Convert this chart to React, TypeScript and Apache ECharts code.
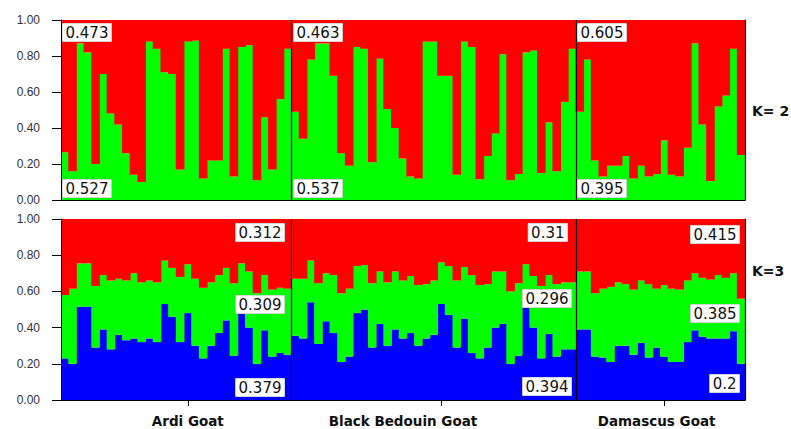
import React, { useEffect, useRef } from "react";
import * as echarts from "echarts";

// Group names
const groupNames = ["Ardi Goat", "Black Bedouin Goat", "Damascus Goat"];

// K=2 : green share per individual (red is the remainder)
const ardiK2Green = [0.265, 0.16, 0.87, 0.82, 0.2, 0.7, 0.48, 0.42, 0.26, 0.14, 0.1, 0.88, 0.84, 0.71, 0.7, 0.17, 0.88, 0.885, 0.12, 0.22, 0.22, 0.84, 0.13, 0.85, 0.86, 0.11, 0.46, 0.17, 0.56, 0.84];
const bedouinK2Green = [0.49, 0.34, 0.78, 0.87, 0.87, 0.69, 0.26, 0.19, 0.85, 0.84, 0.21, 0.785, 0.505, 0.4, 0.23, 0.13, 0.12, 0.88, 0.88, 0.69, 0.69, 0.14, 0.88, 0.85, 0.115, 0.245, 0.37, 0.81, 0.11, 0.145, 0.82, 0.83, 0.15, 0.43, 0.16, 0.545, 0.84];
const damascusK2Green = [0.49, 0.78, 0.22, 0.13, 0.19, 0.19, 0.245, 0.12, 0.19, 0.13, 0.145, 0.33, 0.14, 0.13, 0.29, 0.87, 0.42, 0.105, 0.52, 0.58, 0.84, 0.25];

// K=3 : blue share, and cumulative top of green (blue + green); red is the remainder
const ardiK3Blue = [0.23, 0.2, 0.515, 0.515, 0.29, 0.39, 0.28, 0.36, 0.33, 0.34, 0.32, 0.34, 0.32, 0.53, 0.46, 0.32, 0.48, 0.3, 0.23, 0.3, 0.37, 0.44, 0.245, 0.49, 0.4, 0.2, 0.385, 0.24, 0.26, 0.25];
const ardiK3GreenTop = [0.58, 0.615, 0.755, 0.755, 0.63, 0.69, 0.66, 0.67, 0.66, 0.7, 0.65, 0.66, 0.65, 0.77, 0.73, 0.68, 0.75, 0.67, 0.62, 0.65, 0.69, 0.73, 0.645, 0.755, 0.71, 0.59, 0.69, 0.61, 0.62, 0.615];
const bedouinK3Blue = [0.355, 0.34, 0.54, 0.31, 0.435, 0.37, 0.21, 0.24, 0.48, 0.5, 0.29, 0.42, 0.3, 0.39, 0.34, 0.37, 0.3, 0.34, 0.36, 0.53, 0.47, 0.29, 0.45, 0.26, 0.23, 0.29, 0.4, 0.42, 0.2, 0.245, 0.51, 0.4, 0.23, 0.365, 0.24, 0.28, 0.28];
const bedouinK3GreenTop = [0.67, 0.67, 0.77, 0.645, 0.7, 0.69, 0.59, 0.615, 0.74, 0.745, 0.645, 0.71, 0.65, 0.71, 0.66, 0.685, 0.635, 0.64, 0.66, 0.76, 0.74, 0.66, 0.735, 0.69, 0.635, 0.64, 0.71, 0.71, 0.6, 0.645, 0.75, 0.685, 0.63, 0.69, 0.64, 0.65, 0.65];
const damascusK3Blue = [0.39, 0.39, 0.24, 0.235, 0.21, 0.3, 0.3, 0.25, 0.315, 0.235, 0.29, 0.24, 0.21, 0.21, 0.32, 0.385, 0.35, 0.34, 0.34, 0.34, 0.38, 0.2];
const damascusK3GreenTop = [0.71, 0.71, 0.59, 0.615, 0.625, 0.65, 0.64, 0.61, 0.66, 0.64, 0.615, 0.635, 0.615, 0.61, 0.66, 0.7, 0.675, 0.665, 0.69, 0.675, 0.7, 0.56];

// Mean membership annotations
const k2RedMeans = ["0.473", "0.463", "0.605"];
const k2GreenMeans = ["0.527", "0.537", "0.395"];
const k3RedMeans = ["0.312", "0.31", "0.415"];
const k3GreenMeans = ["0.309", "0.296", "0.385"];
const k3BlueMeans = ["0.379", "0.394", "0.2"];

const round3 = (v: number) => Math.round(v * 1000) / 1000;

export default function App() {
  const ref = useRef<HTMLDivElement>(null);

  useEffect(() => {
    if (!ref.current) return;
    const chart = echarts.init(ref.current, undefined, { renderer: "svg" });

    const samples = [
      ...ardiK2Green.map((_, i) => `AR${i + 1}`),
      ...bedouinK2Green.map((_, i) => `BB${i + 1}`),
      ...damascusK2Green.map((_, i) => `DM${i + 1}`),
    ];
    const b1 = ardiK2Green.length;
    const b2 = b1 + bedouinK2Green.length;

    const k2Green = [...ardiK2Green, ...bedouinK2Green, ...damascusK2Green];
    const k2Red = k2Green.map((v) => round3(1 - v));
    const k3Blue = [...ardiK3Blue, ...bedouinK3Blue, ...damascusK3Blue];
    const k3Top = [...ardiK3GreenTop, ...bedouinK3GreenTop, ...damascusK3GreenTop];
    const k3Green = k3Top.map((t, i) => round3(t - k3Blue[i]));
    const k3Red = k3Top.map((t) => round3(1 - t));

    const tickIdx = [16, 49, 78];
    const labelIdx = [16, 44, 77];

    const boundaryLine = {
      show: true,
      interval: (i: number) => i === b1 || i === b2,
      lineStyle: { color: "#000", width: 1.2 },
    };

    const frameX = (grid: number, position: string) => ({
      type: "category",
      gridIndex: grid,
      data: samples,
      position,
      z: 5,
      axisLine: { show: true, lineStyle: { color: "#000", width: 1 } },
      axisTick: { show: false },
      axisLabel: { show: false },
      splitLine: { show: false },
    });

    const valueY = (grid: number) => ({
      type: "value",
      gridIndex: grid,
      min: 0,
      max: 1,
      interval: 0.2,
      z: 5,
      axisLine: { show: true, lineStyle: { color: "#000" } },
      axisTick: { show: true, length: 9, lineStyle: { color: "#000" } },
      axisLabel: {
        margin: 21,
        color: "#333",
        fontSize: 12,
        fontFamily: "Liberation Sans",
        formatter: (v: number) => v.toFixed(2),
      },
      splitLine: { show: false },
    });

    const rightY = (grid: number) => ({
      type: "value",
      gridIndex: grid,
      position: "right",
      min: 0,
      max: 1,
      z: 5,
      axisLine: { show: true, lineStyle: { color: "#000" } },
      axisTick: { show: false },
      axisLabel: { show: false },
      splitLine: { show: false },
    });

    const bar = (name: string, data: number[], color: string, x: number, y: number, stack: string) => ({
      type: "bar",
      name,
      data,
      stack,
      xAxisIndex: x,
      yAxisIndex: y,
      barWidth: "112%",
      itemStyle: { color },
      emphasis: { disabled: true },
    });

    const annot = (text: string, pos: any) => ({
      type: "text",
      ...pos,
      z: 100,
      style: {
        text,
        fontSize: 15,
        fontFamily: "DejaVu Sans",
        fill: "#111",
        backgroundColor: "#fff",
        borderColor: "#aaa",
        borderWidth: 0.5,
        padding: [2, 3, 1, 3],
      },
    });

    const topLefts = [62, 293, 577];
    const k3Rights = [506, 219, 51];

    const graphics: any[] = [];
    topLefts.forEach((l, g) => {
      graphics.push(annot(k2RedMeans[g], { left: l, top: 23 }));
      graphics.push(annot(k2GreenMeans[g], { left: l, top: 179 }));
    });
    const k3RedTops = [223, 223, 225];
    const k3GreenTops = [295, 289, 304];
    const k3BlueTops = [378, 377, 374];
    k3Rights.forEach((r, g) => {
      graphics.push(annot(k3RedMeans[g], { right: r + (g === 1 ? 4 : 0), top: k3RedTops[g] }));
      graphics.push(annot(k3GreenMeans[g], { right: r, top: k3GreenTops[g] }));
      graphics.push(annot(k3BlueMeans[g], { right: r, top: k3BlueTops[g] }));
    });
    graphics.push({
      type: "text",
      left: 752,
      top: 104,
      style: { text: "K= 2", fontSize: 14, fontWeight: "bold", fontFamily: "DejaVu Sans", fill: "#111" },
    });
    graphics.push({
      type: "text",
      left: 752,
      top: 264,
      style: { text: "K=3", fontSize: 14, fontWeight: "bold", fontFamily: "DejaVu Sans", fill: "#111" },
    });

    chart.setOption({
      animation: false,
      grid: [
        { left: 61, right: 46, top: 20, height: 180 },
        { left: 61, right: 46, top: 219, height: 181 },
      ],
      xAxis: [
        { ...frameX(0, "bottom"), splitLine: boundaryLine },
        frameX(0, "top"),
        {
          ...frameX(1, "bottom"),
          splitLine: boundaryLine,
          axisTick: {
            show: true,
            alignWithLabel: true,
            length: 6,
            interval: (i: number) => tickIdx.includes(i),
            lineStyle: { color: "#000" },
          },
          axisLabel: {
            show: true,
            margin: 14,
            interval: (i: number) => labelIdx.includes(i),
            formatter: (_v: string, i: number) => {
              const k = labelIdx.indexOf(i);
              return k >= 0 ? groupNames[k] : "";
            },
            color: "#111",
            fontSize: 13.5,
            fontWeight: "bold",
            fontFamily: "DejaVu Sans",
          },
        },
        frameX(1, "top"),
      ],
      yAxis: [valueY(0), rightY(0), valueY(1), rightY(1)],
      series: [
        bar("K2 cluster 1", k2Green, "#00FF00", 0, 0, "k2"),
        bar("K2 cluster 2", k2Red, "#FF0000", 0, 0, "k2"),
        bar("K3 cluster 1", k3Blue, "#0000FF", 2, 2, "k3"),
        bar("K3 cluster 2", k3Green, "#00FF00", 2, 2, "k3"),
        bar("K3 cluster 3", k3Red, "#FF0000", 2, 2, "k3"),
      ],
      graphic: graphics,
    });

    return () => chart.dispose();
  }, []);

  return <div ref={ref} style={{ position: "absolute", left: 0, top: 0, width: 791, height: 429, background: "#fff" }} />;
}
